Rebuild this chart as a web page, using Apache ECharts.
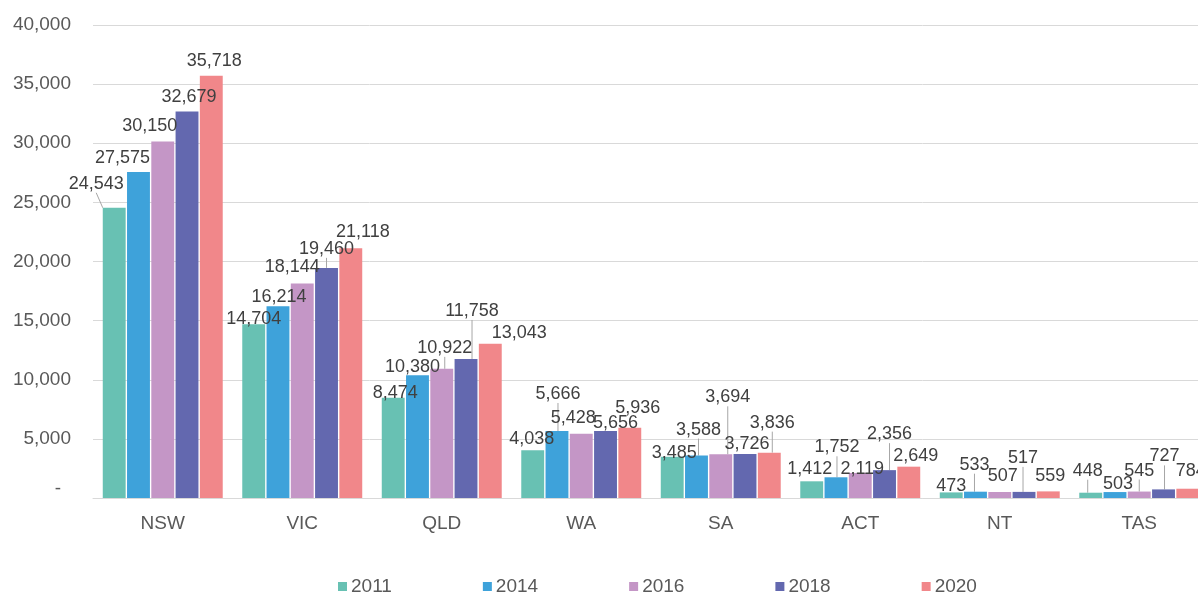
<!DOCTYPE html>
<html>
<head>
<meta charset="utf-8">
<script src="https://cdn.jsdelivr.net/npm/echarts@6/dist/echarts.min.js"></script>
<style>
html, body { margin: 0; padding: 0; background: #fff; }
#chart { width: 1198px; height: 595px; }
</style>
</head>
<body>
<div id="chart"></div>
<script>
// data
var categories = ['NSW', 'VIC', 'QLD', 'WA', 'SA', 'ACT', 'NT', 'TAS'];
var years = ['2011', '2014', '2016', '2018', '2020'];
var values2011 = [24543, 14704, 8474, 4038, 3485, 1412, 473, 448];
var values2014 = [27575, 16214, 10380, 5666, 3588, 1752, 533, 503];
var values2016 = [30150, 18144, 10922, 5428, 3694, 2119, 507, 545];
var values2018 = [32679, 19460, 11758, 5656, 3726, 2356, 517, 727];
var values2020 = [35718, 21118, 13043, 5936, 3836, 2649, 559, 784];
var colors = ['#68C1B3', '#3EA2DA', '#C496C6', '#6368AF', '#F1878A'];

// label nudges [dx, dy] so labels sit where Excel put them
var labelShift = [
	[[-18, -9], [0, 10], [2, 10], [-1, 4], [2, 11], [-2, 3], [0, 9], [-3, -7]],
	[[-16, 1], [1, 6], [-5, 7], [1, -22], [2, -11], [1, -15], [-1, -12], [3, 7]],
	[[-13, 0], [-10, -1], [3, -6], [-8, -1], [7, -42], [2, 11], [3, -1], [0, -6]],
	[[2, 0], [0, -4], [6, -33], [10, 7], [2, 5], [5, -21], [-1, -19], [1, -18]],
	[[3, 0], [12, -1], [29, 4], [8, -5], [3, -15], [7, 4], [2, 0], [3, -3]]
];
// which labels get a leader line
var leader = [
	[1, 0, 0, 0, 0, 0, 0, 1],
	[0, 0, 0, 1, 1, 1, 1, 0],
	[0, 0, 1, 0, 1, 0, 0, 1],
	[0, 1, 1, 0, 0, 1, 1, 1],
	[0, 0, 0, 0, 1, 0, 0, 0]
];

var allValues = [values2011, values2014, values2016, values2018, values2020];
var fontFamily = '"Liberation Sans", Arial, sans-serif';

var chart = echarts.init(document.getElementById('chart'));

var series = years.map(function(year, s) {
	return {
		name : year,
		type : 'bar',
		barCategoryGap : '14%',
		barGap : '6%',
		itemStyle : {
			color : colors[s]
		},
		label : {
			show : true,
			position : 'top',
			distance : 6,
			color : '#404040',
			fontSize : 18,
			fontFamily : fontFamily,
			formatter : function(p) {
				return p.value.toLocaleString('en-US');
			}
		},
		labelLine : {
			show : false,
			lineStyle : {
				color : '#a6a6a6',
				width : 1
			}
		},
		labelLayout : function(p) {
			var sh = labelShift[p.seriesIndex][p.dataIndex];
			return { dx : sh[0], dy : sh[1] };
		},
		data : allValues[s].map(function(v, i) {
			return {
				value : v,
				labelLine : { show : !!leader[s][i] }
			};
		})
	};
});

chart.setOption({
	animation : false,
	color : colors,
	textStyle : { fontFamily : fontFamily },
	grid : {
		left : 93,
		width : 1116, // plot runs past the right edge, as in the reference
		top : 25,
		bottom : 97,
		outerBoundsMode : 'none',
		containLabel : false
	},
	legend : {
		data : years,
		left : 338,
		top : 577,
		padding : 0,
		icon : 'rect',
		itemWidth : 9,
		itemHeight : 9,
		itemGap : 91,
		textStyle : {
			color : '#595959',
			fontSize : 19,
			fontFamily : fontFamily,
			padding : [0, 0, 0, -1]
		}
	},
	xAxis : {
		type : 'category',
		data : categories,
		axisLine : { lineStyle : { color : '#d9d9d9' } },
		axisTick : { show : false },
		axisLabel : {
			color : '#595959',
			fontSize : 19,
			margin : 16,
			fontFamily : fontFamily
		}
	},
	yAxis : {
		type : 'value',
		min : 0,
		max : 40000,
		interval : 5000,
		axisLine : { show : false },
		axisTick : { show : false },
		splitLine : { lineStyle : { color : '#d9d9d9' } },
		axisLabel : {
			color : '#595959',
			fontSize : 19,
			margin : 22,
			fontFamily : fontFamily,
			formatter : function(v) {
				return v === 0 ? '{d|-}' : v.toLocaleString('en-US');
			},
			rich : {
				d : {
					color : '#595959',
					fontSize : 19,
					fontFamily : fontFamily,
					padding : [0, 10, 18, 0]
				}
			}
		}
	},
	series : series
});
</script>
</body>
</html>
